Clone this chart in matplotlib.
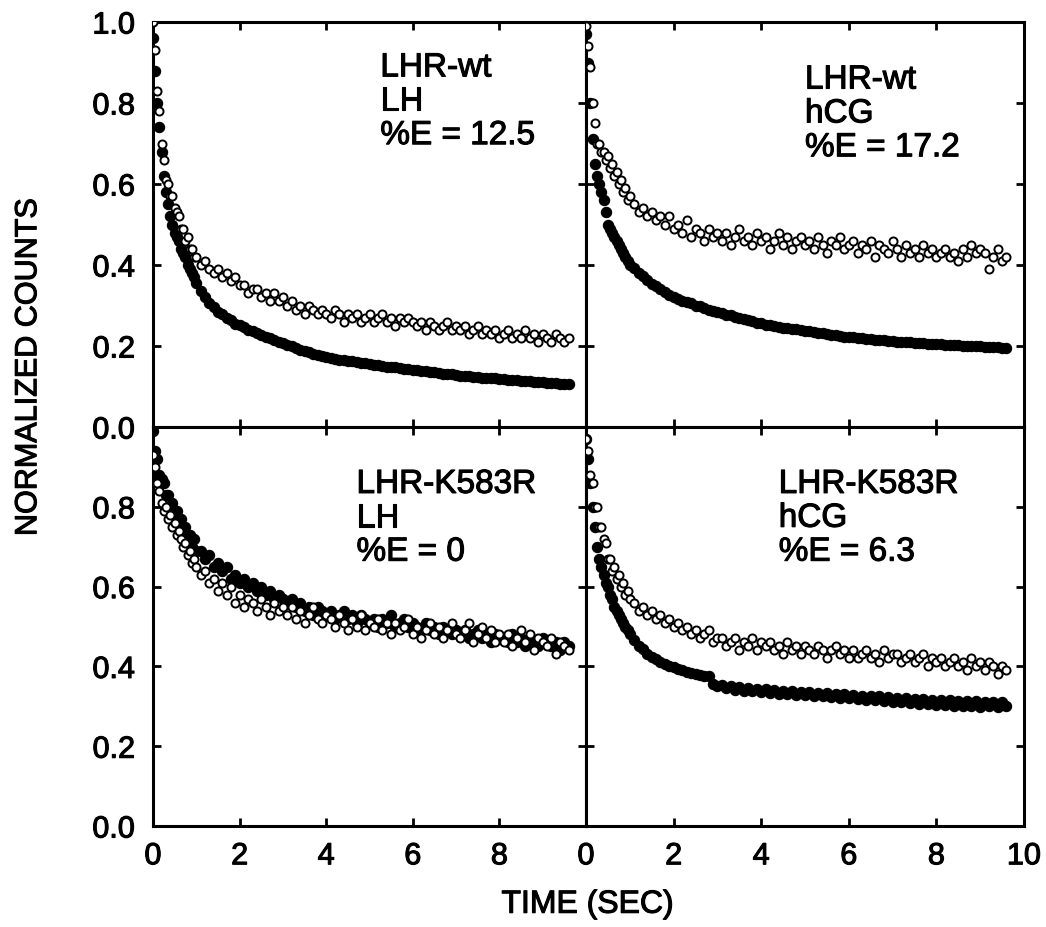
import matplotlib
matplotlib.use("Agg")
import matplotlib.pyplot as plt
import matplotlib.patheffects as pe

plt.rcParams['font.family'] = ['Liberation Sans', 'DejaVu Sans']

# sample times (sec), shared by all traces
t = [0.00, 0.05, 0.10, 0.15, 0.20, 0.25, 0.30, 0.35, 0.40, 0.45, 0.50,
     0.55, 0.60, 0.65, 0.70, 0.75, 0.80, 0.85, 0.90, 0.95, 1.00,
     1.1, 1.2, 1.3, 1.4, 1.5, 1.6, 1.7, 1.8, 1.9, 2.0,
     2.1, 2.2, 2.3, 2.4, 2.5, 2.6, 2.7, 2.8, 2.9, 3.0,
     3.1, 3.2, 3.3, 3.4, 3.5, 3.6, 3.7, 3.8, 3.9, 4.0,
     4.1, 4.2, 4.3, 4.4, 4.5, 4.6, 4.7, 4.8, 4.9, 5.0,
     5.1, 5.2, 5.3, 5.4, 5.5, 5.6, 5.7, 5.8, 5.9, 6.0,
     6.1, 6.2, 6.3, 6.4, 6.5, 6.6, 6.7, 6.8, 6.9, 7.0,
     7.1, 7.2, 7.3, 7.4, 7.5, 7.6, 7.7, 7.8, 7.9, 8.0,
     8.1, 8.2, 8.3, 8.4, 8.5, 8.6, 8.7, 8.8, 8.9, 9.0,
     9.1, 9.2, 9.3, 9.4, 9.5, 9.6]

# LHR-wt, LH
wt_lh_open = [1.00, 0.93, 0.83, 0.78, 0.70, 0.66, 0.61, 0.60, 0.57, 0.57, 0.54,
              0.53, 0.52, 0.49, 0.49, 0.46, 0.47, 0.44, 0.44, 0.42, 0.42,
              0.40, 0.41, 0.39, 0.38, 0.39, 0.37, 0.38, 0.36, 0.37, 0.35,
              0.35, 0.33, 0.34, 0.34, 0.32, 0.33, 0.31, 0.33, 0.31, 0.32,
              0.30, 0.31, 0.29, 0.30, 0.28, 0.30, 0.29, 0.28, 0.29, 0.28,
              0.27, 0.29, 0.28, 0.26, 0.28, 0.27, 0.28, 0.26, 0.27, 0.28,
              0.26, 0.27, 0.28, 0.26, 0.27, 0.25, 0.27, 0.26, 0.27, 0.26,
              0.25, 0.26, 0.24, 0.26, 0.25, 0.24, 0.25, 0.26, 0.24, 0.25,
              0.24, 0.25, 0.23, 0.24, 0.25, 0.23, 0.24, 0.23, 0.24, 0.22,
              0.23, 0.24, 0.22, 0.23, 0.22, 0.24, 0.22, 0.23, 0.21, 0.23,
              0.22, 0.21, 0.23, 0.22, 0.21, 0.22]
wt_lh_fill = [0.96, 0.88, 0.80, 0.74, 0.68, 0.62, 0.58, 0.55, 0.52, 0.50, 0.48,
              0.47, 0.46, 0.44, 0.43, 0.42, 0.40, 0.39, 0.38, 0.37, 0.355,
              0.335, 0.322, 0.306, 0.296, 0.285, 0.278, 0.268, 0.264, 0.255, 0.251,
              0.246, 0.240, 0.237, 0.232, 0.226, 0.223, 0.219, 0.215, 0.211, 0.207,
              0.203, 0.199, 0.194, 0.191, 0.188, 0.185, 0.181, 0.178, 0.175, 0.172,
              0.170, 0.168, 0.166, 0.165, 0.163, 0.162, 0.160, 0.158, 0.157, 0.156,
              0.154, 0.152, 0.151, 0.149, 0.148, 0.147, 0.145, 0.144, 0.143, 0.141,
              0.140, 0.139, 0.138, 0.136, 0.135, 0.134, 0.132, 0.131, 0.130, 0.128,
              0.127, 0.126, 0.125, 0.124, 0.123, 0.122, 0.122, 0.121, 0.120, 0.119,
              0.118, 0.117, 0.116, 0.115, 0.114, 0.114, 0.113, 0.112, 0.111, 0.110,
              0.109, 0.108, 0.108, 0.107, 0.106, 0.106]

# LHR-wt, hCG
wt_hcg_open = [0.99, 0.94, 0.89, 0.80, 0.75, 0.70, 0.70, 0.68, 0.68, 0.66, 0.67,
               0.64, 0.65, 0.62, 0.63, 0.60, 0.61, 0.58, 0.59, 0.56, 0.57,
               0.55, 0.53, 0.54, 0.52, 0.53, 0.51, 0.52, 0.50, 0.52, 0.49,
               0.50, 0.48, 0.51, 0.47, 0.49, 0.48, 0.46, 0.49, 0.47, 0.48,
               0.46, 0.48, 0.45, 0.47, 0.49, 0.46, 0.47, 0.45, 0.48, 0.46,
               0.47, 0.44, 0.46, 0.48, 0.45, 0.47, 0.44, 0.46, 0.47, 0.45,
               0.46, 0.44, 0.47, 0.45, 0.43, 0.46, 0.45, 0.47, 0.44, 0.45,
               0.46, 0.43, 0.45, 0.44, 0.46, 0.42, 0.45, 0.44, 0.43, 0.46,
               0.44, 0.42, 0.45, 0.43, 0.44, 0.42, 0.45, 0.43, 0.44, 0.42,
               0.43, 0.44, 0.42, 0.43, 0.41, 0.44, 0.42, 0.45, 0.43, 0.44,
               0.43, 0.39, 0.42, 0.44, 0.41, 0.42]
wt_hcg_fill = [0.97, 0.90, 0.80, 0.71, 0.65, 0.62, 0.60, 0.58, 0.56, 0.53, 0.50,
               0.49, 0.48, 0.47, 0.46, 0.45, 0.44, 0.43, 0.42, 0.41, 0.40,
               0.392, 0.380, 0.372, 0.363, 0.354, 0.347, 0.340, 0.333, 0.327, 0.321,
               0.316, 0.312, 0.308, 0.305, 0.300, 0.298, 0.294, 0.290, 0.287, 0.284,
               0.281, 0.277, 0.276, 0.271, 0.269, 0.266, 0.263, 0.262, 0.258, 0.256,
               0.253, 0.252, 0.249, 0.248, 0.245, 0.244, 0.242, 0.241, 0.239, 0.238,
               0.236, 0.235, 0.232, 0.231, 0.229, 0.228, 0.226, 0.225, 0.223, 0.222,
               0.221, 0.220, 0.219, 0.218, 0.217, 0.216, 0.215, 0.214, 0.213, 0.212,
               0.211, 0.210, 0.210, 0.209, 0.208, 0.207, 0.207, 0.206, 0.205, 0.205,
               0.204, 0.203, 0.203, 0.202, 0.202, 0.201, 0.200, 0.200, 0.199, 0.199,
               0.198, 0.198, 0.197, 0.197, 0.196, 0.196]

# LHR-K583R, LH
k_lh_open = [0.93, 0.90, 0.86, 0.84, 0.81, 0.79, 0.80, 0.77, 0.78, 0.75, 0.76,
             0.73, 0.74, 0.72, 0.70, 0.71, 0.68, 0.69, 0.66, 0.67, 0.65,
             0.63, 0.64, 0.61, 0.62, 0.59, 0.61, 0.58, 0.60, 0.56, 0.58,
             0.55, 0.57, 0.56, 0.54, 0.57, 0.55, 0.53, 0.56, 0.54, 0.55,
             0.53, 0.55, 0.52, 0.54, 0.51, 0.53, 0.55, 0.52, 0.51, 0.53,
             0.52, 0.50, 0.53, 0.51, 0.49, 0.52, 0.50, 0.53, 0.49, 0.51,
             0.50, 0.52, 0.49, 0.51, 0.48, 0.51, 0.49, 0.50, 0.52, 0.48,
             0.50, 0.47, 0.49, 0.51, 0.48, 0.50, 0.47, 0.49, 0.51, 0.48,
             0.47, 0.49, 0.51, 0.46, 0.48, 0.50, 0.47, 0.49, 0.46, 0.48,
             0.46, 0.48, 0.45, 0.47, 0.49, 0.46, 0.48, 0.44, 0.47, 0.46,
             0.45, 0.47, 0.43, 0.46, 0.45, 0.44]
k_lh_fill = [0.99, 0.94, 0.92, 0.88, 0.87, 0.86, 0.83, 0.83, 0.80, 0.81, 0.78,
             0.79, 0.76, 0.77, 0.74, 0.75, 0.72, 0.73, 0.70, 0.72, 0.69,
             0.69, 0.67, 0.68, 0.65, 0.66, 0.64, 0.65, 0.62, 0.63, 0.61,
             0.62, 0.60, 0.61, 0.59, 0.60, 0.58, 0.59, 0.57, 0.58, 0.57,
             0.56, 0.57, 0.55, 0.56, 0.54, 0.55, 0.53, 0.55, 0.54, 0.53,
             0.54, 0.52, 0.53, 0.54, 0.52, 0.53, 0.51, 0.53, 0.52, 0.51,
             0.52, 0.50, 0.52, 0.51, 0.53, 0.50, 0.51, 0.52, 0.50, 0.51,
             0.50, 0.49, 0.51, 0.49, 0.50, 0.48, 0.50, 0.49, 0.48, 0.49,
             0.48, 0.49, 0.47, 0.48, 0.49, 0.47, 0.48, 0.46, 0.48, 0.47,
             0.47, 0.46, 0.48, 0.46, 0.47, 0.45, 0.47, 0.46, 0.45, 0.47,
             0.46, 0.45, 0.46, 0.44, 0.46, 0.45]

# LHR-K583R, hCG
k_hcg_open = [0.97, 0.94, 0.88, 0.86, 0.80, 0.80, 0.75, 0.75, 0.72, 0.71, 0.67,
              0.67, 0.64, 0.65, 0.62, 0.63, 0.60, 0.61, 0.58, 0.59, 0.57,
              0.56, 0.54, 0.55, 0.53, 0.54, 0.52, 0.53, 0.51, 0.52, 0.50,
              0.51, 0.49, 0.50, 0.48, 0.49, 0.47, 0.48, 0.49, 0.46, 0.47,
              0.47, 0.45, 0.46, 0.47, 0.44, 0.46, 0.45, 0.47, 0.44, 0.46,
              0.45, 0.46, 0.44, 0.45, 0.43, 0.46, 0.44, 0.45, 0.43, 0.45,
              0.44, 0.43, 0.45, 0.44, 0.42, 0.44, 0.45, 0.43, 0.44, 0.42,
              0.44, 0.42, 0.43, 0.44, 0.42, 0.43, 0.41, 0.44, 0.42, 0.43,
              0.43, 0.41, 0.42, 0.43, 0.41, 0.42, 0.43, 0.40, 0.42, 0.41,
              0.42, 0.40, 0.41, 0.42, 0.40, 0.41, 0.39, 0.42, 0.40, 0.41,
              0.39, 0.41, 0.40, 0.38, 0.40, 0.39]
k_hcg_fill = [0.97, 0.92, 0.86, 0.80, 0.75, 0.70, 0.67, 0.65, 0.63, 0.61, 0.60,
              0.58, 0.57, 0.55, 0.54, 0.53, 0.52, 0.51, 0.50, 0.49, 0.48,
              0.465, 0.452, 0.443, 0.432, 0.424, 0.418, 0.412, 0.407, 0.402, 0.398,
              0.394, 0.391, 0.387, 0.384, 0.381, 0.379, 0.377, 0.375, 0.355, 0.352,
              0.354, 0.345, 0.350, 0.342, 0.348, 0.339, 0.346, 0.338, 0.344, 0.336,
              0.343, 0.334, 0.340, 0.331, 0.339, 0.330, 0.338, 0.329, 0.336, 0.328,
              0.337, 0.327, 0.334, 0.325, 0.333, 0.323, 0.332, 0.322, 0.330, 0.320,
              0.329, 0.319, 0.327, 0.317, 0.326, 0.315, 0.325, 0.314, 0.323, 0.312,
              0.322, 0.310, 0.320, 0.309, 0.319, 0.306, 0.318, 0.305, 0.317, 0.304,
              0.316, 0.303, 0.315, 0.302, 0.314, 0.301, 0.314, 0.300, 0.313, 0.299,
              0.312, 0.300, 0.311, 0.299, 0.310, 0.301]

panel_text = [["LHR-wt\nLH\n%E = 12.5", "LHR-wt\nhCG\n%E = 17.2"],
              ["LHR-K583R\nLH\n%E = 0", "LHR-K583R\nhCG\n%E = 6.3"]]
panel_data = [[(wt_lh_open, wt_lh_fill), (wt_hcg_open, wt_hcg_fill)],
              [(k_lh_open, k_lh_fill), (k_hcg_open, k_hcg_fill)]]
text_pos = [[(5.25, 0.925), (5.0, 0.895)], [(4.7, 0.895), (4.4, 0.895)]]

# slightly heavier strokes, like the scanned print
heavy = [pe.withStroke(linewidth=0.8, foreground='black')]

fig = plt.figure(figsize=(10.46, 9.28), dpi=100)
lefts = [153 / 1046, 586 / 1046]
widths = [433 / 1046, 438 / 1046]
bottoms = [1 - 428 / 928, 1 - 827 / 928]
heights = [405 / 928, 399 / 928]

for r in range(2):
    for c in range(2):
        ax = fig.add_axes([lefts[c], bottoms[r], widths[c], heights[r]])
        y_open, y_fill = panel_data[r][c]
        ax.scatter(t, y_fill, s=55, facecolor='black', edgecolor='black',
                   linewidth=0.8, zorder=2)
        ax.scatter(t, y_open, s=34, facecolor='white', edgecolor='black',
                   linewidth=1.4, zorder=3)
        ax.set_xlim(0, 10)
        ax.set_ylim(0, 1)
        ax.set_xticks([0, 2, 4, 6, 8, 10])
        ax.set_yticks([0, 0.2, 0.4, 0.6, 0.8, 1.0])
        ax.tick_params(direction='in', length=6, width=2, top=True, right=True,
                       labelsize=22)
        ax.tick_params(axis='y', pad=13)
        ax.tick_params(axis='x', pad=11)
        for sp in ax.spines.values():
            sp.set_linewidth(2.2)
        if c == 0:
            labs = ['0.0', '0.2', '0.4', '0.6', '0.8', '1.0'] if r == 0 else \
                   ['0.0', '0.2', '0.4', '0.6', '0.8', '']
            ax.set_yticklabels(labs)
        else:
            ax.set_yticklabels([])
        if r == 1:
            labs = ['0', '2', '4', '6', '8', ''] if c == 0 else \
                   ['0', '2', '4', '6', '8', '10']
            ax.set_xticklabels(labs)
        else:
            ax.set_xticklabels([])
        for lab in ax.get_xticklabels() + ax.get_yticklabels():
            lab.set_path_effects(heavy)
        tx, ty = text_pos[r][c]
        ax.text(tx, ty, panel_text[r][c], fontsize=24, va='top', ha='left',
                linespacing=1.12, zorder=4, path_effects=heavy)

fig.text(0.027, 0.603, "NORMALIZED COUNTS", rotation=90, fontsize=22,
         ha='center', va='center', path_effects=heavy)
fig.text(0.562, 0.024, "TIME (SEC)", fontsize=23, ha='center', va='center',
         path_effects=heavy)

fig.savefig("out.png", dpi=100)
